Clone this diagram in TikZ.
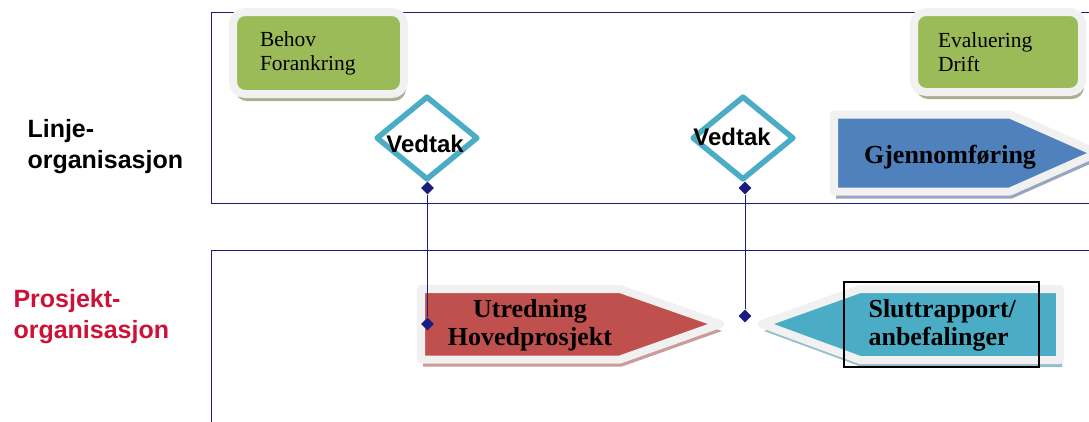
\documentclass[tikz,border=0pt]{standalone}
\usepackage{fontspec}
\setmainfont{Liberation Serif}
\setsansfont{Liberation Sans}
\usetikzlibrary{shapes.geometric,shadows}
\definecolor{navy}{HTML}{1C1C80}
\definecolor{leaf}{HTML}{9BBB59}
\definecolor{steel}{HTML}{4F81BD}
\definecolor{brick}{HTML}{C0504D}
\definecolor{aqua}{HTML}{4BACC6}
\definecolor{crimson}{HTML}{CC1236}
\definecolor{bevel}{HTML}{F1F1F1}
\definecolor{leafshade}{HTML}{A9B08F}
\definecolor{steelshade}{HTML}{97A5BE}
\definecolor{brickshade}{HTML}{C99C9B}
\definecolor{aquashade}{HTML}{94BFCA}

\begin{document}
\begin{tikzpicture}[x=1pt,y=-1pt]
\tikzset{
  bevel/.style={draw=bevel,line width=8pt,line join=round},
  lift/.style={drop shadow={shadow xshift=2pt,shadow yshift=-7pt,fill=#1,opacity=1}},
  greenbox/.style={bevel,lift=leafshade,fill=leaf,rounded corners=12pt,inner sep=0pt,align=left,font=\fontsize{21.5}{24}\selectfont},
  vedtak/.style={diamond,draw=aqua,line width=5.5pt,fill=white,minimum width=102pt,minimum height=84pt,inner sep=0pt,line join=round},
  vtext/.style={anchor=base,font=\sffamily\bfseries\fontsize{24}{28}\selectfont},
  dot/.style={diamond,fill=navy,minimum size=13pt,inner sep=0pt},
  heading/.style={anchor=base west,align=left,font=\sffamily\bfseries\fontsize{25}{31}\selectfont},
  big/.style={font=\bfseries\fontsize{26}{28}\selectfont},
  lane/.style={draw=navy,line width=0.8pt}
}
\useasboundingbox (0,0) rectangle (1089,421);

% the two lanes
\draw[lane] (1095,12) -- (211,12) -- (211,203) -- (1095,203);
\draw[lane] (1095,250) -- (211,250) -- (211,425);
\node[heading] (linje) at (24,168) {Linje-\\organisasjon};
\node[heading,text=crimson] (prosjekt) at (10,338) {Prosjekt-\\organisasjon};

% green boxes
\node[greenbox,minimum width=171pt,minimum height=82pt,text width=117pt] (behov) at (318.5,53) {Behov\\Forankring};
\node[greenbox,minimum width=168pt,minimum height=80pt,text width=120pt] (evaluering) at (998,52) {Evaluering\\Drift};

% arrows
\filldraw[bevel,lift=steelshade,fill=steel] (834,114.5) -- (1010,114.5) -- (1097,153) -- (1010,191.5) -- (834,191.5) -- cycle;
\filldraw[bevel,lift=brickshade,fill=brick] (421,289) -- (620,289) -- (720,324) -- (620,359.5) -- (421,359.5) -- cycle;
\filldraw[bevel,lift=aquashade,fill=aqua] (1060,289) -- (860,289) -- (762,324) -- (860,360) -- (1060,360) -- cycle;
\node[big,anchor=base] (gjennom) at (950,163) {Gjennomføring};
\node[big,align=center,anchor=base] (utredning) at (530,345) {Utredning\\Hovedprosjekt};
\node[big,align=left,anchor=base west] (slutt) at (865,345) {Sluttrapport/\\anbefalinger};
\draw[black,line width=1.5pt] (844,282) rectangle (1039,367);

% decisions
\node[vedtak] (d1) at (427,138) {};
\node[vedtak] (d2) at (743,138) {};
\node[vtext] (v1) at (425,152) {Vedtak};
\node[vtext] (v2) at (732,145) {Vedtak};

% links down to the project
\node[dot] (m1) at (427.5,188) {};
\node[dot] (m2) at (745,188) {};
\node[dot] (m3) at (427.5,324) {};
\node[dot] (m4) at (745,316) {};
\draw[navy,line width=0.8pt] (m1) -- (m3);
\draw[navy,line width=0.8pt] (m2) -- (m4);
\end{tikzpicture}
\end{document}
